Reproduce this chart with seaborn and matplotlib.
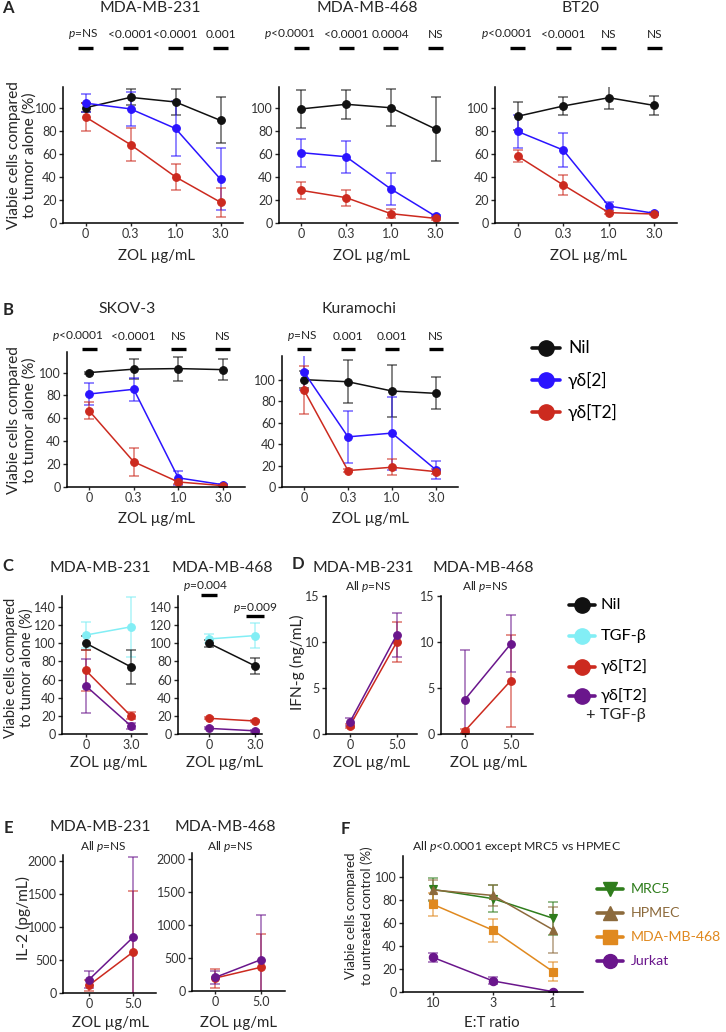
import matplotlib
matplotlib.use("Agg")
import matplotlib.pyplot as plt
import seaborn as sns
import pandas as pd
from matplotlib.lines import Line2D
from matplotlib.transforms import blended_transform_factory

# -------------------- data --------------------
ZOL_A = ["0", "0.3", "1.0", "3.0"]
ZOL_C = ["0", "3.0"]
ZOL_D = ["0", "5.0"]
ET = ["10", "3", "1"]

# A: MDA-MB-231
a231_nil = [100, 109, 105, 89]
a231_nil_sd = [4, 7, 11, 20]
a231_g2 = [104, 99, 82, 38]
a231_g2_sd = [8, 15, 24, 27]
a231_t2 = [92, 68, 40, 18]
a231_t2_sd = [12, 14, 11, 12.5]
a231_p = ["$p$=NS", "<0.0001", "<0.0001", "0.001"]

# A: MDA-MB-468
a468_nil = [99, 103, 100, 81.5]
a468_nil_sd = [16.5, 12.5, 16, 28]
a468_g2 = [61, 57.5, 29.5, 5.8]
a468_g2_sd = [12, 13.7, 13.5, 1]
a468_t2 = [28.3, 22, 8.1, 4]
a468_t2_sd = [7.5, 7, 4, 1]
a468_p = ["$p$<0.0001", "<0.0001", "0.0004", "NS"]

# A: BT20
bt20_nil = [92.6, 101.5, 108.7, 102]
bt20_nil_sd = [12, 7.5, 10, 8.5]
bt20_g2 = [79.4, 63.3, 14.7, 8.4]
bt20_g2_sd = [14, 15, 3.5, 1]
bt20_t2 = [58, 33, 9, 7.8]
bt20_t2_sd = [5.5, 9, 1.5, 1]
bt20_p = ["$p$<0.0001", "<0.0001", "NS", "NS"]

# B: SKOV-3
skov_nil = [100, 103, 103.5, 102.6]
skov_nil_sd = [0.8, 9, 10.5, 9]
skov_g2 = [81.3, 85.4, 8, 2]
skov_g2_sd = [10, 10, 6, 1]
skov_t2 = [66.5, 22, 4.4, 1.2]
skov_t2_sd = [7.5, 12.5, 2, 0.5]
skov_p = ["$p$<0.0001", "<0.0001", "NS", "NS"]

# B: Kuramochi
kura_nil = [100, 98, 89.4, 87.2]
kura_nil_sd = [8, 20, 24.5, 15]
kura_g2 = [107, 46.7, 50.2, 15.9]
kura_g2_sd = [17, 24, 34, 8.4]
kura_t2 = [90.3, 15.3, 18.4, 14.3]
kura_t2_sd = [22, 1.5, 7.5, 2]
kura_p = ["$p$=NS", "0.001", "0.001", "NS"]

# C: viability with TGF-b
c231_tgf = [109, 118]
c231_tgf_sd = [14, 33]
c231_nil = [100, 74]
c231_nil_sd = [7.5, 18.5]
c231_t2 = [70, 20]
c231_t2_sd = [23, 4]
c231_t2tgf = [53, 9]
c231_t2tgf_sd = [30, 3]

c468_tgf = [104.7, 108.4]
c468_tgf_sd = [5, 14]
c468_nil = [100, 75]
c468_nil_sd = [4, 9]
c468_t2 = [17.3, 14.3]
c468_t2_sd = [1, 1]
c468_t2tgf = [6.2, 3.5]
c468_t2tgf_sd = [1, 1]

# D: IFN-g (ng/mL)
d231_t2 = [0.9, 10.0]
d231_t2_sd = [0.2, 2.2]
d231_t2tgf = [1.3, 10.8]
d231_t2tgf_sd = [0.4, 2.4]
d468_t2 = [0.3, 5.8]
d468_t2_sd = [0.2, 5.0]
d468_t2tgf = [3.7, 9.8]
d468_t2tgf_sd = [5.4, 3.1]

# E: IL-2 (pg/mL)
e231_t2 = [117, 621]
e231_t2_sd = [85, 925]
e231_t2tgf = [203, 844]
e231_t2tgf_sd = [130, 1220]
e468_t2 = [195, 360]
e468_t2_sd = [145, 500]
e468_t2tgf = [205, 475]
e468_t2tgf_sd = [100, 670]

# F: E:T ratio
f_mrc5 = [89, 81, 64]
f_mrc5_sd = [10, 12, 14.5]
f_hpmec = [88.5, 83.8, 54]
f_hpmec_sd = [9, 9, 20]
f_mda468 = [76, 53.6, 17.7]
f_mda468_sd = [10, 10, 8.5]
f_jurkat = [30, 9.6, 0.3]
f_jurkat_sd = [4, 3, 0.5]

# -------------------- style --------------------
BLACK = "#111111"
BLUE = "#2b14ff"
RED = "#cc2a1f"
CYAN = "#82eef5"
PURPLE = "#6a168c"
GREEN = "#2f7d1c"
BROWN = "#8c6a3c"
ORANGE = "#e0891f"

sns.set_theme(style="ticks")
plt.rcParams["font.family"] = ["Lato", "DejaVu Sans"]
plt.rcParams["mathtext.fontset"] = "custom"
plt.rcParams["mathtext.rm"] = "Lato"
plt.rcParams["mathtext.it"] = "Lato:italic"

W, H = 726, 1032
fig = plt.figure(figsize=(W / 100, H / 100), dpi=100)

TFS = 11.3    # panel titles
LFS = 10.8    # x labels
YFS = 11.2    # y labels
PFS = 8.6     # p-values
KFS = 9       # tick labels


def px_axes(x0, y0, x1, y1):
    return fig.add_axes([x0 / W, 1 - y1 / H, (x1 - x0) / W, (y1 - y0) / H])


def ftext(x, y, s, **kw):
    kw.setdefault("ha", "center")
    kw.setdefault("va", "center")
    fig.text(x / W, 1 - y / H, s, **kw)


def draw(ax, cats, series, ms=5.5):
    rows = []
    for name, vals, sds, col, mk in series:
        for c, v in zip(cats, vals):
            rows.append((c, v, name))
    df = pd.DataFrame(rows, columns=["dose", "value", "group"])
    names = [s[0] for s in series]
    pal = {s[0]: s[3] for s in series}
    sns.pointplot(data=df, x="dose", y="value", hue="group", order=cats,
                  hue_order=names, palette=pal, markers=[s[4] for s in series],
                  linestyles="-", errorbar=None, legend=False, ax=ax,
                  markersize=ms, linewidth=1.1)
    for name, vals, sds, col, mk in series:
        ax.errorbar(range(len(cats)), vals, yerr=sds, fmt="none", ecolor=col,
                    alpha=0.6, elinewidth=1.2, capsize=3.5, capthick=1.2,
                    zorder=1.5)


def style(ax, xlim, ylim, yticks):
    ax.set_xlim(xlim)
    ax.set_ylim(ylim)
    ax.set_yticks(yticks)
    ax.set_xlabel("")
    ax.set_ylabel("")
    sns.despine(ax=ax)
    for sp in ax.spines.values():
        sp.set_linewidth(1.1)
        sp.set_color("black")
    ax.tick_params(labelsize=KFS, labelcolor="#333333", length=3, width=1, pad=1.5)
    ax.tick_params(axis="x", length=2)


def pvals(ax, labels, ty, by):
    tr = blended_transform_factory(ax.transData, fig.transFigure)
    for i, lab in enumerate(labels):
        dx = -0.25 if lab.startswith("$p$<") else (-0.05 if lab.startswith("$p$") else 0)
        ax.text(i + dx, 1 - ty / H, lab, transform=tr, ha="center", va="center",
                fontsize=PFS, color="#222222", clip_on=False)
        ax.plot([i - 0.17, i + 0.17], [1 - by / H] * 2, transform=tr, color="black",
                lw=2.4, solid_capstyle="butt", clip_on=False)


def legend_entry(xc, y, color, marker, label, xt, fs, ms=11, tcolor="black", half=14):
    yf = 1 - y / H
    fig.add_artist(Line2D([(xc - half) / W, (xc + half) / W], [yf, yf], color=color,
                          lw=2.6, transform=fig.transFigure))
    fig.add_artist(Line2D([xc / W], [yf], marker=marker, ms=ms, color=color,
                          lw=0, transform=fig.transFigure))
    ftext(xt, y, label, ha="left", fontsize=fs, color=tcolor)


def three(nil, nil_sd, g2, g2_sd, t2, t2_sd):
    return [("Nil", nil, nil_sd, BLACK, "o"),
            ("γδ[2]", g2, g2_sd, BLUE, "o"),
            ("γδ[T2]", t2, t2_sd, RED, "o")]


YL_VIA = "Viabie cells compared\nto tumor alone (%)"

# -------------------- A --------------------
a_boxes = [(63, 87, 243, 223), (279, 87, 458, 223), (495, 87, 677, 223)]
a_data = [three(a231_nil, a231_nil_sd, a231_g2, a231_g2_sd, a231_t2, a231_t2_sd),
          three(a468_nil, a468_nil_sd, a468_g2, a468_g2_sd, a468_t2, a468_t2_sd),
          three(bt20_nil, bt20_nil_sd, bt20_g2, bt20_g2_sd, bt20_t2, bt20_t2_sd)]
a_p = [a231_p, a468_p, bt20_p]
a_titles = [("MDA-MB-231", 150), ("MDA-MB-468", 367), ("BT20", 580)]
for box, ser, pl, (tt, tx) in zip(a_boxes, a_data, a_p, a_titles):
    ax = px_axes(*box)
    draw(ax, ZOL_A, ser)
    style(ax, (-0.5, 3.5), (0, 118), range(0, 101, 20))
    pvals(ax, pl, 34, 48)
    ftext(tx, 8, tt, fontsize=TFS)
    ftext((box[0] + box[2]) / 2 + 3, 256, "ZOL µg/mL", fontsize=LFS)
ftext(8, 8, "A", fontsize=12, fontweight="bold")
ftext(22, 155, YL_VIA, rotation=90, fontsize=YFS, linespacing=1.15)

# -------------------- B --------------------
b_boxes = [(67, 352, 245, 487), (282, 356, 458, 487)]
b_data = [three(skov_nil, skov_nil_sd, skov_g2, skov_g2_sd, skov_t2, skov_t2_sd),
          three(kura_nil, kura_nil_sd, kura_g2, kura_g2_sd, kura_t2, kura_t2_sd)]
b_p = [skov_p, kura_p]
b_titles = [("SKOV-3", 127), ("Kuramochi", 359)]
b_ylim = [(0, 118), (0, 122)]
for box, ser, pl, (tt, tx), yl in zip(b_boxes, b_data, b_p, b_titles, b_ylim):
    ax = px_axes(*box)
    draw(ax, ZOL_A, ser)
    style(ax, (-0.5, 3.5), yl, range(0, 101, 20))
    pvals(ax, pl, 336, 349)
    ftext(tx, 309, tt, fontsize=TFS)
    ftext((box[0] + box[2]) / 2, 519, "ZOL µg/mL", fontsize=LFS)
ftext(8, 310, "B", fontsize=12, fontweight="bold")
ftext(22, 420, YL_VIA, rotation=90, fontsize=YFS, linespacing=1.15)

legend_entry(546, 348, BLACK, "o", "Nil", 568, 12.5)
legend_entry(546, 380, BLUE, "o", "γδ[2]", 568, 12.5)
legend_entry(546, 412, RED, "o", "γδ[T2]", 568, 12.5)

# -------------------- C --------------------
def four(tgf, tgf_sd, nil, nil_sd, t2, t2_sd, tt, tt_sd):
    return [("TGF-β", tgf, tgf_sd, CYAN, "o"),
            ("Nil", nil, nil_sd, BLACK, "o"),
            ("γδ[T2]", t2, t2_sd, RED, "o"),
            ("γδ[T2] + TGF-β", tt, tt_sd, PURPLE, "o")]


ax = px_axes(62, 596, 147, 734)
draw(ax, ZOL_C, four(c231_tgf, c231_tgf_sd, c231_nil, c231_nil_sd,
                     c231_t2, c231_t2_sd, c231_t2tgf, c231_t2tgf_sd))
style(ax, (-0.53, 1.36), (0, 152), range(0, 141, 20))
ftext(100, 568, "MDA-MB-231", fontsize=TFS)
ftext(108, 763, "ZOL µg/mL", fontsize=LFS)

ax = px_axes(178, 596, 262, 734)
draw(ax, ZOL_C, four(c468_tgf, c468_tgf_sd, c468_nil, c468_nil_sd,
                     c468_t2, c468_t2_sd, c468_t2tgf, c468_t2tgf_sd))
style(ax, (-0.67, 1.15), (0, 152), range(0, 141, 20))
tr = blended_transform_factory(ax.transData, fig.transFigure)
ax.text(-0.07, 1 - 586 / H, "$p$=0.004", transform=tr, ha="center", va="center",
        fontsize=PFS, color="#222222")
ax.plot([-0.17, 0.17], [1 - 595 / H] * 2, transform=tr, color="black", lw=2.4,
        solid_capstyle="butt", clip_on=False)
ax.text(1.0, 1 - 608 / H, "$p$=0.009", transform=tr, ha="center", va="center",
        fontsize=PFS, color="#222222")
ax.plot([0.8, 1.2], [1 - 616 / H] * 2, transform=tr, color="black", lw=2.4,
        solid_capstyle="butt", clip_on=False)
ftext(222, 568, "MDA-MB-468", fontsize=TFS)
ftext(224, 763, "ZOL µg/mL", fontsize=LFS)
ftext(8, 566, "C", fontsize=12, fontweight="bold")
ftext(19, 668, YL_VIA, rotation=90, fontsize=10.5, linespacing=1.1)

# -------------------- D --------------------
def two(t2, t2_sd, tt, tt_sd):
    return [("γδ[T2]", t2, t2_sd, RED, "o"),
            ("γδ[T2] + TGF-β", tt, tt_sd, PURPLE, "o")]


ax = px_axes(326, 596, 417, 734)
draw(ax, ZOL_D, two(d231_t2, d231_t2_sd, d231_t2tgf, d231_t2tgf_sd))
style(ax, (-0.51, 1.43), (0, 15), [0, 5, 10, 15])
ftext(363, 568, "MDA-MB-231", fontsize=TFS)
ftext(368, 587, "All $p$=NS", fontsize=PFS, color="#222222")
ftext(372, 763, "ZOL µg/mL", fontsize=LFS)

ax = px_axes(441, 596, 533, 734)
draw(ax, ZOL_D, two(d468_t2, d468_t2_sd, d468_t2tgf, d468_t2tgf_sd))
style(ax, (-0.51, 1.48), (0, 15), [0, 5, 10, 15])
ftext(483, 568, "MDA-MB-468", fontsize=TFS)
ftext(485, 587, "All $p$=NS", fontsize=PFS, color="#222222")
ftext(488, 763, "ZOL µg/mL", fontsize=LFS)
ftext(298, 564, "D", fontsize=12, fontweight="bold")
ftext(297, 662, "IFN-g (ng/mL)", rotation=90, fontsize=YFS)

legend_entry(582, 605, BLACK, "o", "Nil", 601, 11.8, half=13)
legend_entry(582, 636, CYAN, "o", "TGF-β", 601, 11.8, half=13)
legend_entry(582, 667, RED, "o", "γδ[T2]", 601, 11.8, half=13)
legend_entry(582, 696, PURPLE, "o", "γδ[T2]", 601, 11.8, half=13)
ftext(586, 715, "+ TGF-β", ha="left", fontsize=11.8)

# -------------------- E --------------------
ax = px_axes(63, 855, 156, 993)
draw(ax, ZOL_D, two(e231_t2, e231_t2_sd, e231_t2tgf, e231_t2tgf_sd))
style(ax, (-0.59, 1.52), (0, 2090), range(0, 2001, 500))
ftext(100, 827, "MDA-MB-231", fontsize=TFS)
ftext(103, 847, "All $p$=NS", fontsize=PFS, color="#222222")
ftext(110, 1023, "ZOL µg/mL", fontsize=LFS)

ax = px_axes(192, 853, 285, 991)
draw(ax, ZOL_D, two(e468_t2, e468_t2_sd, e468_t2tgf, e468_t2tgf_sd))
style(ax, (-0.5, 1.52), (0, 2090), range(0, 2001, 500))
ftext(225, 827, "MDA-MB-468", fontsize=TFS)
ftext(230, 847, "All $p$=NS", fontsize=PFS, color="#222222")
ftext(238, 1023, "ZOL µg/mL", fontsize=LFS)
ftext(8, 828, "E", fontsize=12, fontweight="bold")
ftext(23, 918, "IL-2 (pg/mL)", rotation=90, fontsize=YFS)

# -------------------- F --------------------
ax = px_axes(403, 856, 583, 992)
f_series = [("MRC5", f_mrc5, f_mrc5_sd, GREEN, "v"),
            ("HPMEC", f_hpmec, f_hpmec_sd, BROWN, "^"),
            ("MDA-MB-468", f_mda468, f_mda468_sd, ORANGE, "s"),
            ("Jurkat", f_jurkat, f_jurkat_sd, PURPLE, "o")]
draw(ax, ET, f_series, ms=6)
style(ax, (-0.5, 2.5), (0, 118), range(0, 101, 20))
ftext(517, 847, "All $p$<0.0001 except MRC5 vs HPMEC", fontsize=8.8, color="#222222")
ftext(492, 1023, "E:T ratio", fontsize=LFS)
ftext(345, 829, "F", fontsize=12, fontweight="bold")
ftext(359, 916, "Viabie cells compared\nto untreated control (%)", rotation=90,
      fontsize=9.5, linespacing=1.25)

for (name, _, _, col, mk), yy in zip(f_series, [889, 913, 937, 961]):
    legend_entry(610, yy, col, mk, name, 631, 10.2, ms=10, tcolor=col, half=13)

fig.savefig("out.png", dpi=100)
